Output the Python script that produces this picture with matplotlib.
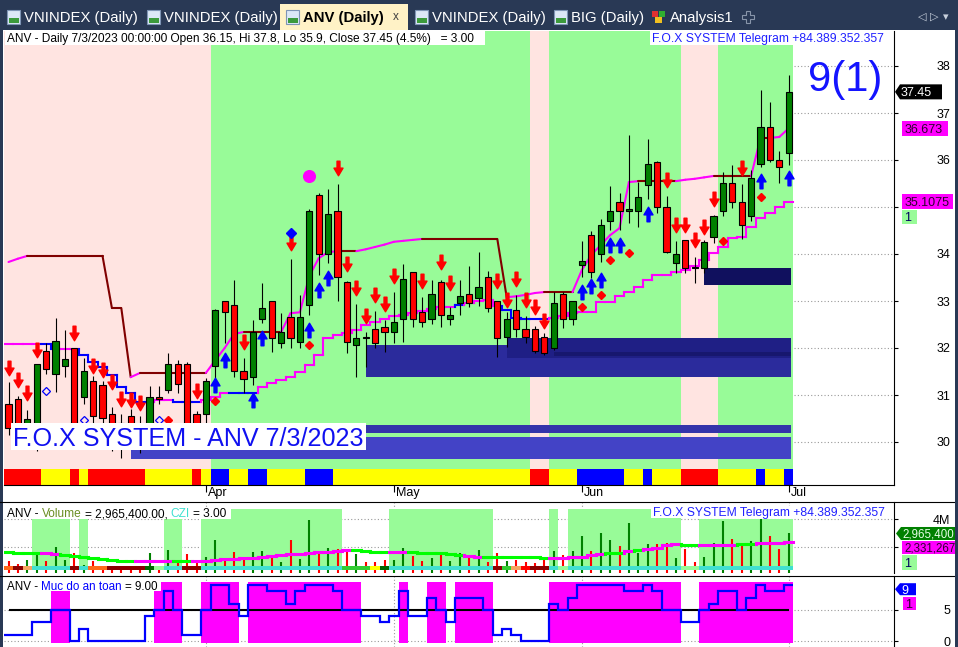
import numpy as np
import matplotlib
matplotlib.use("Agg")
import matplotlib.pyplot as plt
import matplotlib.transforms as mtrans
from matplotlib.patches import Rectangle, Polygon
from matplotlib.collections import LineCollection
from matplotlib.path import Path
from matplotlib.font_manager import FontProperties

FONT = 'Liberation Sans'
plt.rcParams['font.family'] = [FONT, 'DejaVu Sans']

# ---------------- data (bar index 0 = first visible day of March) ----------------
opens = [30.81, 30.91, 30.25, 30.30, 31.94, 31.45, 31.62, 32.00, 30.95, 31.30,
         31.21, 30.60, 30.40, 30.55, 30.30, 30.30, 30.96, 31.10, 31.66, 31.66,
         30.60, 30.60, 31.62, 33.00, 32.91, 31.51, 31.38, 32.62, 33.00, 32.11,
         32.66, 32.13, 32.91, 35.26, 34.00, 34.91, 33.40, 32.06, 32.21, 32.40,
         32.45, 32.34, 32.62, 33.62, 32.77, 32.62, 33.40, 32.62, 32.96, 33.15,
         33.06, 33.51, 33.00, 32.23, 32.81, 32.40, 32.40, 32.23, 32.00, 33.15,
         32.62, 33.77, 34.40, 34.00, 34.70, 35.10, 34.91, 34.91, 35.47, 35.96,
         35.00, 33.81, 34.30, 33.70, 33.70, 34.36, 34.91, 35.51, 35.10, 34.81,
         35.91, 36.70, 36.00, 36.15]
highs = [31.28, 30.97, 30.68, 31.66, 32.11, 32.64, 32.38, 32.00, 31.79, 31.40,
         31.30, 30.75, 30.60, 30.70, 30.55, 31.20, 31.20, 31.90, 31.74, 31.70,
         30.65, 31.36, 32.83, 33.00, 33.45, 31.79, 32.60, 33.38, 33.00, 32.74,
         33.89, 33.13, 34.95, 35.30, 35.38, 35.49, 33.43, 32.94, 32.34, 32.79,
         32.60, 33.19, 33.79, 33.62, 33.09, 33.45, 33.45, 32.87, 33.45, 33.74,
         34.04, 33.64, 33.00, 32.77, 33.13, 32.68, 32.47, 32.32, 33.19, 33.19,
         33.00, 34.28, 34.49, 34.74, 35.45, 35.30, 36.53, 35.53, 36.45, 35.98,
         35.23, 34.28, 34.30, 33.94, 34.30, 34.83, 35.74, 35.89, 35.49, 35.79,
         37.49, 37.23, 36.19, 37.80]
lows = [30.15, 30.10, 30.00, 29.80, 31.45, 31.06, 31.38, 30.20, 30.80, 30.30,
        30.30, 29.81, 29.66, 29.85, 29.77, 30.00, 30.80, 31.04, 31.04, 29.90,
        30.10, 30.40, 31.37, 32.11, 31.38, 31.04, 31.21, 32.53, 31.91, 32.00,
        32.00, 32.00, 32.70, 33.55, 33.80, 33.00, 31.90, 31.38, 31.60, 32.00,
        31.91, 32.11, 32.13, 32.45, 32.45, 32.51, 32.45, 32.50, 32.70, 32.87,
        32.90, 32.77, 31.81, 32.02, 32.23, 32.10, 31.89, 31.85, 31.96, 32.43,
        32.50, 33.51, 33.50, 33.83, 34.51, 34.51, 34.66, 34.57, 35.17, 34.87,
        34.02, 33.60, 33.60, 33.38, 33.60, 34.23, 34.80, 34.98, 34.32, 34.70,
        35.85, 35.95, 35.51, 35.90]
closes = [30.30, 30.30, 30.50, 31.66, 31.55, 32.15, 31.77, 30.40, 31.51, 30.55,
          30.51, 30.30, 30.15, 30.20, 30.05, 30.96, 30.92, 31.66, 31.23, 30.30,
          30.30, 31.30, 32.81, 32.77, 31.51, 31.34, 32.34, 32.85, 32.21, 32.34,
          32.21, 32.66, 34.91, 34.00, 34.85, 33.51, 32.13, 32.21, 32.21, 32.11,
          32.34, 32.55, 33.47, 32.62, 32.55, 33.15, 32.70, 32.70, 33.11, 32.96,
          33.30, 32.85, 32.21, 32.62, 32.40, 32.23, 31.94, 31.89, 32.96, 32.62,
          33.00, 33.85, 33.62, 34.62, 34.91, 34.91, 34.96, 35.21, 35.91, 35.00,
          34.04, 34.00, 33.70, 33.70, 34.26, 34.81, 35.51, 35.10, 34.62, 35.62,
          36.70, 36.00, 35.85, 37.45]

stop_line = [33.83, 33.90, 33.96, 33.96, 33.96, 33.96, 33.96, 33.96, 33.96, 33.96,
             33.96, 32.85, 32.85, 31.38, 31.47, 31.47, 31.47, 31.47, 31.47, 31.47,
             31.47, 31.47, 31.74, 32.00, 32.30, 32.34, 32.34, 32.34, 32.34, 32.34,
             32.74, 32.76, 33.53, 33.91, 34.04, 34.06, 34.06, 34.06, 34.10, 34.15,
             34.20, 34.26, 34.28, 34.30, 34.32, 34.32, 34.32, 34.32, 34.32, 34.32,
             34.32, 34.32, 34.32, 33.08, 33.10, 33.13, 33.17, 33.19, 33.19, 33.19,
             33.19, 33.66, 33.98, 34.19, 34.40, 34.55, 35.53, 35.55, 35.55, 35.55,
             35.55, 35.55, 35.58, 35.60, 35.63, 35.66, 35.66, 35.66, 35.66, 35.66,
             36.47, 36.47, 36.49, 36.673]
trail_line = [32.09, 32.09, 32.09, 32.09, 32.09, 31.98, 31.98, 31.98, 31.85, 31.70,
              31.60, 31.43, 31.17, 31.04, 30.85, 30.85, 30.89, 30.89, 30.85, 30.85,
              30.85, 30.89, 30.96, 31.04, 31.04, 31.04, 31.04, 31.17, 31.25, 31.32,
              31.38, 31.50, 31.64, 31.85, 32.21, 32.27, 32.32, 32.38, 32.49, 32.55,
              32.62, 32.68, 32.70, 32.74, 32.79, 32.83, 32.87, 32.87, 32.92, 32.96,
              33.00, 33.02, 32.89, 32.81, 32.64, 32.62, 32.62, 32.62, 32.64, 32.68,
              32.75, 32.77, 32.77, 32.98, 32.98, 33.10, 33.19, 33.30, 33.45, 33.55,
              33.55, 33.62, 33.66, 33.75, 33.87, 34.02, 34.15, 34.34, 34.36, 34.57,
              34.77, 34.87, 35.00, 35.1075]
trail_down = "0000110011111111001110001110000000000000000000001000011111" + "0" * 26

sell_bars = [0, 1, 2, 3, 7, 9, 10, 11, 12, 13, 14, 20, 25, 30, 35, 36, 37, 38, 39,
             40, 41, 44, 46, 47, 52, 53, 54, 55, 56, 57, 70, 71, 72, 73, 74, 75, 78]
sell_lvls = [31.57, 31.32, 31.04, 31.96, 32.32, 31.62, 31.53, 31.28, 30.91, 30.89,
             30.83, 31.09, 32.13, 34.23, 35.83, 33.79, 33.28, 32.68, 33.13, 32.94,
             33.53, 33.43, 33.83, 33.38, 33.43, 33.02, 33.47, 33.02, 32.87, 32.57,
             35.57, 34.62, 34.62, 34.30, 34.57, 35.17, 35.83]
buy_bars = [22, 23, 26, 27, 32, 33, 34, 61, 62, 63, 64, 65, 68, 80, 83]
buy_lvls = [31.21, 31.74, 30.89, 32.21, 32.38, 33.23, 33.49, 33.19, 33.32, 33.45,
            34.19, 34.19, 34.85, 35.55, 35.62]
dot_bars = [17, 22, 32, 61, 63, 64, 66, 76, 80]
dot_lvls = [30.47, 30.87, 32.06, 32.87, 33.13, 33.87, 34.02, 34.28, 35.21]
ring_bars = [4, 8, 16]
ring_lvls = [31.09, 30.47, 30.47]
gem_bars = [30]
gem_lvls = [34.45]
peak_bars = [32]
peak_lvls = [35.66]

trend_state = "0" * 22 + "1" * 34 + "00" + "1" * 14 + "0000" + "1" * 8
signal_strip = ("RRRR" + "YYY" + "R" + "Y" + "RRRRRR" + "YYYYY" + "R" + "Y" + "BB" + "YY" +
                "BB" + "YYYY" + "BBB" + "Y" * 21 + "RR" + "YYY" + "BBBBB" + "YY" + "B" +
                "YYY" + "RRRR" + "YYYY" + "B" + "YY" + "B")

zone_start = [38, 53, 58, 74, 13, 13]
zone_low = [31.38, 31.79, 31.83, 33.34, 30.19, 29.64]
zone_high = [32.06, 32.21, 31.92, 33.70, 30.36, 30.11]
zone_end = 83.25

volume = [1.00, 0.79, 1.07, 1.48, 1.00, 2.02, 1.07, 1.60, 0.71, 1.00,
          0.60, 0.64, 0.60, 0.55, 0.50, 1.60, 0.60, 1.79, 1.07, 1.50,
          0.90, 1.26, 2.50, 1.19, 1.64, 1.14, 1.64, 1.71, 1.40, 0.93,
          2.50, 1.14, 3.93, 1.50, 1.90, 1.86, 1.83, 1.50, 0.93, 0.90,
          1.07, 1.07, 1.90, 1.36, 1.00, 1.19, 1.60, 1.00, 1.55, 1.36,
          1.80, 0.95, 1.60, 1.00, 1.07, 0.90, 0.86, 1.26, 1.71, 1.43,
          1.71, 2.79, 1.71, 2.98, 2.50, 2.07, 3.74, 1.60, 2.24, 2.19,
          2.31, 1.19, 1.83, 0.90, 1.26, 2.31, 3.88, 2.57, 2.31, 2.43,
          4.00, 2.79, 1.83, 2.9654]
vol_ma = [1.62, 1.55, 1.55, 1.55, 1.55, 1.50, 1.45, 1.36, 1.26, 1.19,
          1.17, 1.07, 1.02, 1.02, 1.02, 1.02, 1.02, 1.02, 1.02, 1.02,
          1.02, 1.02, 1.07, 1.12, 1.15, 1.19, 1.22, 1.31, 1.36, 1.43,
          1.48, 1.48, 1.60, 1.67, 1.67, 1.70, 1.79, 1.79, 1.75, 1.67,
          1.67, 1.67, 1.67, 1.67, 1.60, 1.60, 1.60, 1.50, 1.43, 1.36,
          1.31, 1.31, 1.31, 1.31, 1.31, 1.31, 1.28, 1.24, 1.24, 1.24,
          1.28, 1.31, 1.40, 1.48, 1.55, 1.60, 1.70, 1.79, 1.83, 1.90,
          2.15, 2.19, 2.12, 2.12, 2.12, 2.12, 2.12, 2.17, 2.19, 2.19,
          2.26, 2.31, 2.31, 2.331]
vol_ma_up = ("0000" + "11" + "0" * 8 + "1111" + "00" + "1" * 17 + "0000" + "11" + "0" * 6 +
             "11" + "0" * 7 + "1" * 6 + "00" + "1" + "0" + "1111" + "00" + "1111" + "00" + "1111")
vol_band = ("000" + "1111" + "0" + "1" + "0" * 8 + "11" + "00" + "2" * 15 + "0" * 5 + "2" * 11 +
            "0" * 6 + "2" + "0" + "2" * 12 + "00" + "1" * 10)
vol_strip = ("orpccccrcoorrrrgwccrr" + "c" * 15 + "lllyg" + "c" * 11 + "rlpRrr" + "cw" +
             "c" * 12 + "ww" + "c" * 10)

safety = [1, 1, 1, 3, 3, 5, 5, 0, 2, 0,
          0, 0, 0, 0, 0, 4, 5, 8, 5, 1,
          1, 5, 9, 9, 6, 4, 9, 9, 8, 8,
          6, 8, 9, 9, 9, 8, 5, 5, 4, 4,
          3, 4, 8, 4, 4, 7, 5, 3, 7, 7,
          7, 5, 1, 2, 1, 0, 0, 0, 6, 5,
          7, 9, 9, 9, 9, 9, 8, 8, 9, 8,
          5, 5, 3, 3, 5, 6, 8, 8, 5, 7,
          9, 8, 8, 9]

month_pos = [21, 41, 61, 83]
month_lab = ['Apr', 'May', 'Jun', 'Jul']

# ---------------- figure / helpers ----------------
W, H = 958, 647
fig = plt.figure(figsize=(W / 100, H / 100), dpi=100)
fig.patch.set_facecolor('white')
renderer = fig.canvas.get_renderer()


def fx(x):
    return x / W


def fy(y):
    return 1 - y / H


def add_ax(x0, y0, x1, y1):
    return fig.add_axes([fx(x0), fy(y1), (x1 - x0) / W, (y1 - y0) / H])


def adv(s, size, weight='normal', family=FONT):
    prop = FontProperties(family=family, size=size, weight=weight)
    w1 = renderer.get_text_width_height_descent('|' + s + '|', prop, ismath=False)[0]
    w0 = renderer.get_text_width_height_descent('||', prop, ismath=False)[0]
    return w1 - w0


def fit(s, width, weight='normal'):
    return 10 * width / adv(s, 10, weight)


def put(x, y, s, size, color='black', weight='normal', family=FONT, z=7):
    return fig.text(fx(x), fy(y + 0.5 * size), s, fontsize=size, color=color, weight=weight,
                    ha='left', va='baseline', family=family, zorder=z)


def box(x0, y0, x1, y1, color, z=5, ec='none'):
    fig.add_artist(Rectangle((fx(x0), fy(y1)), (x1 - x0) / W, (y1 - y0) / H,
                             transform=fig.transFigure, fc=color, ec=ec, lw=0.8, zorder=z))


def rich(x, y, parts, size):
    for s, c in parts:
        core = s.strip(' ')
        lead = len(s) - len(s.lstrip(' '))
        trail = len(s) - len(s.rstrip(' '))
        if lead:
            x += adv(' ' * lead, size)
        if core:
            put(x, y, core, size, c)
            x += adv(core, size)
        if trail:
            x += adv(' ' * trail, size)
    return x


def runs(seq):
    out, start = [], 0
    for i in range(1, len(seq) + 1):
        if i == len(seq) or seq[i] != seq[start]:
            out.append((start, i - start, seq[start]))
            start = i
    return out


def step_segments(vals, cols):
    segs, cs = [], []
    for i, v in enumerate(vals):
        segs.append([(i - 0.5, v), (i + 0.5, v)])
        cs.append(cols[i])
        if i + 1 < len(vals):
            segs.append([(i + 0.5, v), (i + 0.5, vals[i + 1])])
            cs.append(cols[i + 1])
    return segs, cs


def tag(x0, x1, yc, h, fc, s, tc, arrow=False, size=9):
    if arrow:
        pts = [(x0, yc), (x0 + 5, yc - h / 2), (x1, yc - h / 2), (x1, yc + h / 2), (x0 + 5, yc + h / 2)]
        tx = x0 + 6
    else:
        pts = [(x0, yc - h / 2), (x1, yc - h / 2), (x1, yc + h / 2), (x0, yc + h / 2)]
        tx = x0 + 2.5
    fig.add_artist(Polygon([(fx(a), fy(b)) for a, b in pts], closed=True,
                           transform=fig.transFigure, fc=fc, ec='none', zorder=5))
    put(tx, yc, s, size, tc)


def py(a, v):
    return H - a.transData.transform((0, v))[1]


n = len(closes)
idx = np.arange(n)
O, Hi, L, C = map(np.array, (opens, highs, lows, closes))
up = C > O
XL = ((4 - 8.5) / 9.4, (894 - 8.5) / 9.4)

def style_axis(a, yticks, ylabels):
    a.set_xlim(*XL)
    a.set_facecolor('white')
    a.set_axisbelow(True)
    for sp in ('left', 'top', 'bottom'):
        a.spines[sp].set_visible(False)
    a.spines['right'].set_linewidth(0.8)
    a.yaxis.tick_right()
    a.set_yticks(yticks)
    a.set_yticklabels(ylabels, ha='right', fontsize=9, family=FONT)
    a.tick_params(axis='y', length=3, width=0.8, pad=37.5, direction='out')
    a.set_xticks(month_pos)
    a.tick_params(axis='x', labelbottom=False, length=0)
    a.grid(True, ls=(0, (1, 2)), color='#9a9a9a', lw=0.8)

# ---------------- main price panel ----------------
ax = add_ax(4, 31, 894, 485)
ax.set_ylim(38 - (485 - 66) / 47, 38 + 35 / 47)
# the 35 label sits under the 35.1075 tag in the reference
style_axis(ax, range(30, 39), ['' if v == 35 else str(v) for v in range(30, 39)])
ax.spines['bottom'].set_visible(True)
ax.spines['bottom'].set_linewidth(0.8)
ax.tick_params(axis='x', length=5, width=0.8, direction='out')
xt = ax.get_xaxis_transform()

for s, ln, st in runs(trend_state):
    ax.add_patch(Rectangle((s - 0.5, 0.0352), ln, 1 - 0.0352, transform=xt,
                           fc='#98FB98' if st == '1' else '#FFE4E1', ec='none', zorder=1))
strip_col = {'R': '#FF0000', 'Y': '#FFFF00', 'B': '#0000FF'}
for s, ln, st in runs(signal_strip):
    ax.add_patch(Rectangle((s - 0.5, 0.001), ln, 0.0342, transform=xt,
                           fc=strip_col[st], ec='none', zorder=1))

zone_col = ['#2B2B9C', '#1F1F85', '#17176E', '#10105E', '#3434AA', '#4343C6']
for s0, lo, hi, zc in zip(zone_start, zone_low, zone_high, zone_col):
    ax.add_patch(Rectangle((s0, lo), zone_end - s0, hi - lo, fc=zc, ec='none', zorder=2))

segs = [[(i - 1, stop_line[i - 1]), (i, stop_line[i])] for i in range(1, n)]
cols = ['#FF00FF' if stop_line[i] > stop_line[i - 1] else '#800000' for i in range(1, n)]
ax.add_collection(LineCollection(segs, colors=cols, linewidths=1.5, zorder=3, capstyle='round'))
segs, cols = step_segments(trail_line, ['#0000FF' if c == '1' else '#FF00FF' for c in trail_down])
ax.add_collection(LineCollection(segs, colors=cols, linewidths=1.5, zorder=3, capstyle='projecting'))

ax.vlines(idx, L, Hi, color='black', lw=0.8, zorder=4)
for i in idx:
    lo = min(O[i], C[i])
    ht = max(abs(C[i] - O[i]), 0.015)
    ax.add_patch(Rectangle((i - 0.32, lo), 0.64, ht, fc='#008000' if up[i] else '#FF0000',
                           ec='black', lw=0.8, zorder=5))

dv = [(-0.2, 1), (0.2, 1), (0.2, 0.05), (0.62, 0.05), (0, -1), (-0.62, 0.05), (-0.2, 0.05), (-0.2, 1)]
codes = [Path.MOVETO] + [Path.LINETO] * 6 + [Path.CLOSEPOLY]
down_arrow = Path(dv, codes)
up_arrow = Path([(a, -b) for a, b in dv], codes)
ax.plot(sell_bars, sell_lvls, ls='none', marker=down_arrow, ms=10.5, color='#FF0000', zorder=7)
ax.plot(buy_bars, buy_lvls, ls='none', marker=up_arrow, ms=10.5, color='#0000FF', zorder=7)
ax.plot(dot_bars, dot_lvls, ls='none', marker='D', ms=4.2, color='#FF0000', zorder=7)
ax.plot(ring_bars, ring_lvls, ls='none', marker='D', ms=3.6, mfc='none', mec='#0000FF', mew=0.9, zorder=7)
ax.plot(gem_bars, gem_lvls, ls='none', marker='D', ms=4.6, color='#0000FF', zorder=7)
ax.plot(peak_bars, peak_lvls, ls='none', marker='o', ms=8.4, color='#FF00FF', zorder=7)

off = mtrans.ScaledTranslation(2 / 100, 0, fig.dpi_scale_trans)
for p, lab in zip(month_pos, month_lab):
    ax.text(p, (485 - 493) / 454, lab, transform=xt + off, ha='left', va='center', fontsize=9)

# ---------------- volume panel ----------------
vax = add_ax(4, 502, 894, 573)
vax.set_ylim((575 - 573) / 14, (575 - 502) / 14)
style_axis(vax, [2, 4], ['', '4M'])
for s, ln, st in runs(vol_band):
    if st != '0':
        top = 4.0 if st == '1' else 4.71
        vax.add_patch(Rectangle((s - 0.5, 0.39), ln, top - 0.39, fc='#98FB98', ec='none', zorder=1))
vax.vlines(idx, 0, volume, colors=np.where(up, '#008000', '#FF0000'), lw=1.5, zorder=3)
vstrip_col = {'o': '#FF6A1A', 'r': '#8B0000', 'p': '#F4A460', 'c': '#40E0D0', 'g': '#006400',
              'w': '#98FB98', 'l': '#32CD32', 'y': '#FFFF00', 'R': '#FF0000'}
for s, ln, st in runs(vol_strip):
    vax.add_patch(Rectangle((s - 0.5, 0.39), ln, 0.22, fc=vstrip_col[st], ec='none', zorder=4))
segs, cols = step_segments(vol_ma, ['#FF00FF' if c == '1' else '#00FF00' for c in vol_ma_up])
vax.add_collection(LineCollection(segs, colors=cols, linewidths=2.2, zorder=5, capstyle='projecting'))

# ---------------- safety panel ----------------
sax = add_ax(4, 576, 894, 647)
sax.set_ylim((641 - 647) / 6.2, (641 - 576) / 6.2)
style_axis(sax, [0, 5], ['0', '5'])
safe_flag = ''.join('1' if v >= 5 else '0' for v in safety)
for s, ln, st in runs(safe_flag):
    if st == '1':
        sax.add_patch(Rectangle((s - 0.5, -0.3), ln, 9.8, fc='#FF00FF', ec='none', zorder=1))
sax.hlines(5, 0, n - 1, color='black', lw=1.5, zorder=2)
sax.stairs(safety, np.arange(-0.5, n), baseline=None, color='#0000FF', lw=1.6, zorder=3)

# ---------------- frame: tab bar, separators ----------------
box(0, 0, W, 30, '#293955', z=1)
box(0, 30, 3, H, '#293955', z=1)
box(955, 30, W, H, '#293955', z=8)
fig.add_artist(plt.Line2D([0, 1], [fy(502), fy(502)], transform=fig.transFigure, color='black', lw=0.8, zorder=4))
fig.add_artist(plt.Line2D([0, 1], [fy(576), fy(576)], transform=fig.transFigure, color='black', lw=0.8, zorder=4))

box(280, 4, 408, 30, '#FFF2C6', z=2)
tab_size = fit('VNINDEX (Daily)', 113)
for x, s in [(7, 'VNINDEX (Daily)'), (147, 'VNINDEX (Daily)'), (286, 'ANV (Daily)'),
             (415, 'VNINDEX (Daily)'), (554, 'BIG (Daily)')]:
    box(x, 10, x + 13, 24, '#DCE8F6', z=3, ec='#7f95b5')
    box(x + 1.5, 18, x + 11.5, 23, '#3C9A3C', z=4)
    active = s.startswith('ANV')
    put(x + 17, 17, s, tab_size, 'black' if active else 'white', 'bold' if active else 'normal')
put(393, 16, 'x', 8.5, '#404040')
box(652, 11, 658, 17, '#E03030', z=3)
box(659, 11, 665, 17, '#30B030', z=3)
box(655, 17, 662, 23, '#F0C020', z=3)
put(670, 17, 'Analysis1', tab_size, 'white')
plus = [(-2, -6), (2, -6), (2, -2), (6, -2), (6, 2), (2, 2), (2, 6), (-2, 6), (-2, 2), (-6, 2), (-6, -2), (-2, -2)]
fig.add_artist(Polygon([(fx(748 + a), fy(17 + b)) for a, b in plus], closed=True, transform=fig.transFigure,
                       fc='none', ec='#8895aa', lw=0.8, zorder=3))
put(918, 16, '\u25c1', 8, '#c8d0dc', family='DejaVu Sans')
put(930, 16, '\u25b7', 8, '#c8d0dc', family='DejaVu Sans')
put(943, 16, '\u25be', 8, '#c8d0dc', family='DejaVu Sans')

# ---------------- titles and texts ----------------
title = 'ANV - Daily 7/3/2023 00:00:00 Open 36.15, Hi 37.8, Lo 35.9, Close 37.45 (4.5%)   = 3.00'
box(5, 31, 485, 45, 'white')
put(7, 38, title, fit(title, 468))
tel = 'F.O.X SYSTEM Telegram +84.389.352.357'
tel_size = fit(tel, 231)
box(650, 31, 886, 45, 'white')
put(652, 38, tel, tel_size, '#2020FF')
put(808, 76, '9(1)', fit('9(1)', 74), '#1414FF')

big = 'F.O.X SYSTEM - ANV 7/3/2023'
box(11, 423, 366, 450, 'white')
put(13, 437, big, fit(big, 350), '#1010F0')

vparts = [('ANV - ', 'black'), ('Volume', '#6B8E23'), (' = 2,965,400.00, ', 'black'),
          ('CZI', '#40E0D0'), (' = 3.00', 'black')]
vsize = 10 * 221 / sum(adv(s, 10) for s, _ in vparts)
box(5, 507, 231, 519, 'white')
rich(7, 513, vparts, vsize)
box(651, 506, 886, 518, 'white')
put(653, 512, tel, tel_size, '#2020FF')

sparts = [('ANV - ', 'black'), ('Muc do an toan', '#0000FF'), (' = 9.00', 'black')]
ssize = 10 * 151 / sum(adv(s, 10) for s, _ in sparts)
box(6, 580, 161, 591, 'white')
rich(7, 585.5, sparts, ssize)

# ---------------- right-axis value tags ----------------
tag(895, 942, py(ax, closes[-1]), 15, 'black', '37.45', 'white', arrow=True)
tag(902, 948, py(ax, stop_line[-1]), 15, '#FF00FF', '36.673', '#300030')
tag(902, 953, py(ax, trail_line[-1]), 15, '#FF00FF', '35.1075', '#300030')
tag(902, 917, py(ax, trail_line[-1]) + 15, 14, '#98FB98', '1', '#000060')
tag(896, 955, py(vax, volume[-1]), 13, '#008000', '2,965,400', '#E8FFE8', arrow=True, size=8.3)
tag(902, 955, py(vax, volume[-1]) + 14, 13, '#FF00FF', '2,331,267', '#300030', size=8.3)
tag(902, 917, py(vax, volume[-1]) + 29, 15, '#98FB98', '1', '#000060')
tag(895, 916, py(sax, safety[-1]) + 4, 12, '#0000FF', '9', 'white', arrow=True)
tag(903, 916, py(sax, safety[-1]) + 18, 13, '#FF00FF', '1', '#300030')

fig.savefig('out.png', dpi=100)
